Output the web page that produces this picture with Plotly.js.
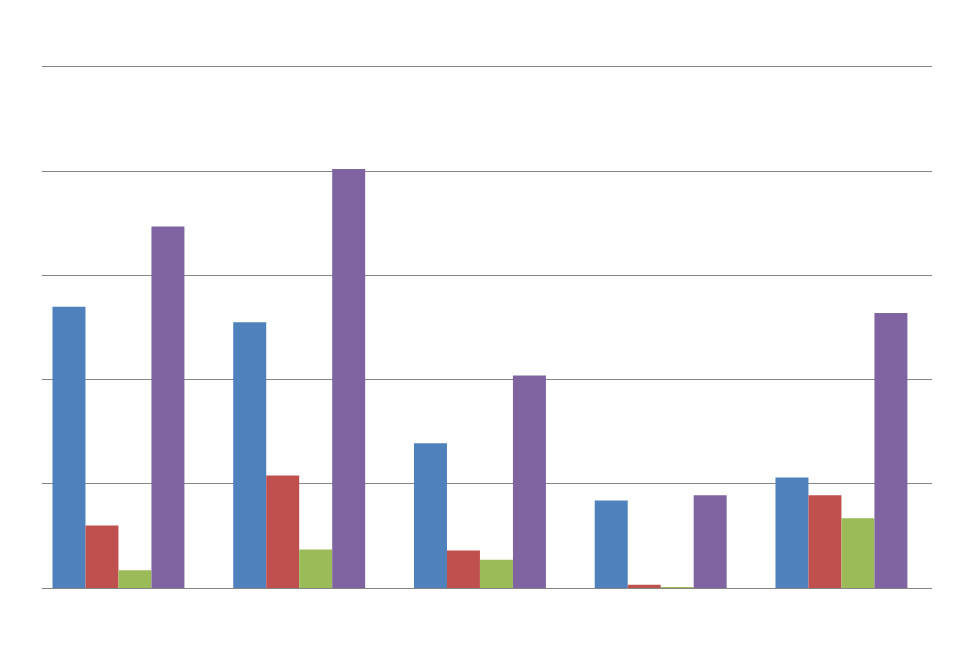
<!DOCTYPE html>
<html>
<head>
<meta charset="utf-8">
<script src="https://cdn.plot.ly/plotly-3.0.1.min.js"></script>
<style>html,body{margin:0;padding:0;background:#fff;}#chart{width:960px;height:662px;}</style>
</head>
<body>
<div id="chart"></div>
<script>
const categories = ["Group 1", "Group 2", "Group 3", "Group 4", "Group 5"];
const seriesNames = ["Series 1", "Series 2", "Series 3", "Series 4"];
const series1 = [2.70, 2.55, 1.39, 0.84, 1.06];
const series2 = [0.60, 1.08, 0.36, 0.03, 0.89];
const series3 = [0.17, 0.37, 0.27, 0.01, 0.67];
const series4 = [3.47, 4.02, 2.04, 0.89, 2.64];
const colors = ["#4F81BD", "#C0504D", "#9BBB59", "#8064A2"];

const allSeries = [series1, series2, series3, series4];
const traces = allSeries.map((vals, i) => ({
  type: "bar",
  name: seriesNames[i],
  x: categories,
  y: vals,
  marker: {color: colors[i], line: {width: 0}},
  hoverinfo: "x+y+name"
}));

const layout = {
  width: 960,
  height: 662,
  paper_bgcolor: "#ffffff",
  plot_bgcolor: "#ffffff",
  margin: {l: 42, r: 28, t: 67, b: 74},
  showlegend: false,
  barmode: "group",
  bargap: 0.27,
  bargroupgap: 0,
  xaxis: {
    type: "category",
    range: [-0.423, 4.501],
    showticklabels: false,
    ticks: "",
    showgrid: false,
    showline: true,
    mirror: true,
    linecolor: "#868686",
    linewidth: 1,
    zeroline: false
  },
  yaxis: {
    range: [0, 5],
    dtick: 1,
    showticklabels: false,
    ticks: "",
    showgrid: true,
    gridcolor: "#868686",
    gridwidth: 1,
    zeroline: false,
    showline: false
  }
};

Plotly.newPlot("chart", traces, layout, {displayModeBar: false, staticPlot: true});
</script>
</body>
</html>
